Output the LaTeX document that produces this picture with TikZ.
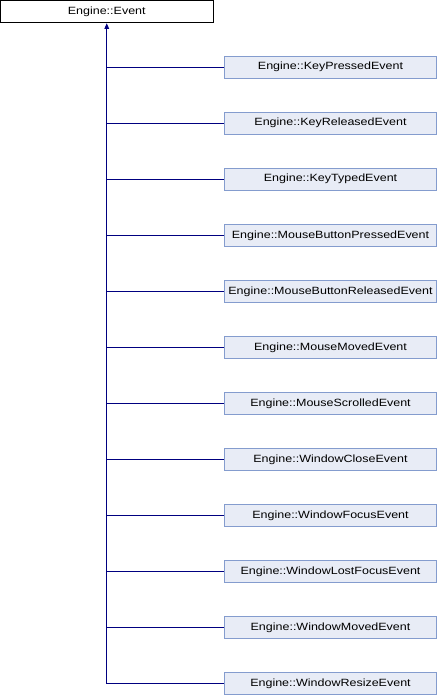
\documentclass[tikz,border=0pt]{standalone}
\usepackage{fontspec}
\setmainfont[FakeStretch=1.19]{Liberation Sans}
\usetikzlibrary{arrows.meta}
\definecolor{clsEdge}{RGB}{0,0,128}
\definecolor{clsFill}{RGB}{232,236,246}
\definecolor{clsLine}{RGB}{132,156,206}

\begin{document}
\begin{tikzpicture}[x=1pt,y=-1pt,>={Triangle[length=5.5pt,width=4.5pt]},
  base/.style={draw=black,fill=white,line width=1pt,minimum width=212.5pt,minimum height=22pt,inner sep=0pt,font=\fontsize{10.5}{12}\selectfont},
  derived/.style={base,draw=clsLine,fill=clsFill},
  edge/.style={clsEdge,line width=1pt}]
\useasboundingbox (0,0) rectangle (438,696);
% base class
\node[base] (ev) at (106.75,11.75) {Engine::Event};
% derived classes, 56px apart
\node[derived] (kp) at (330.5,67) {Engine::KeyPressedEvent};
\node[derived] (kr) at (330.5,123) {Engine::KeyReleasedEvent};
\node[derived] (kt) at (330.5,179) {Engine::KeyTypedEvent};
\node[derived] (mbp) at (330.5,235.5) {Engine::MouseButtonPressedEvent};
\node[derived] (mbr) at (330.5,291.5) {Engine::MouseButtonReleasedEvent};
\node[derived] (mm) at (330.5,347.5) {Engine::MouseMovedEvent};
\node[derived] (ms) at (330.5,403.5) {Engine::MouseScrolledEvent};
\node[derived] (wc) at (330.5,459.5) {Engine::WindowCloseEvent};
\node[derived] (wf) at (330.5,515.5) {Engine::WindowFocusEvent};
\node[derived] (wlf) at (330.5,571.5) {Engine::WindowLostFocusEvent};
\node[derived] (wm) at (330.5,627.5) {Engine::WindowMovedEvent};
\node[derived] (wr) at (330.5,683.5) {Engine::WindowResizeEvent};
% inheritance lines
\draw[edge,->] (wr.west) -| (ev.south);
\draw[edge] (kp.west) -- (kp.west -| ev.south);
\draw[edge] (kr.west) -- (kr.west -| ev.south);
\draw[edge] (kt.west) -- (kt.west -| ev.south);
\draw[edge] (mbp.west) -- (mbp.west -| ev.south);
\draw[edge] (mbr.west) -- (mbr.west -| ev.south);
\draw[edge] (mm.west) -- (mm.west -| ev.south);
\draw[edge] (ms.west) -- (ms.west -| ev.south);
\draw[edge] (wc.west) -- (wc.west -| ev.south);
\draw[edge] (wf.west) -- (wf.west -| ev.south);
\draw[edge] (wlf.west) -- (wlf.west -| ev.south);
\draw[edge] (wm.west) -- (wm.west -| ev.south);
\end{tikzpicture}
\end{document}
